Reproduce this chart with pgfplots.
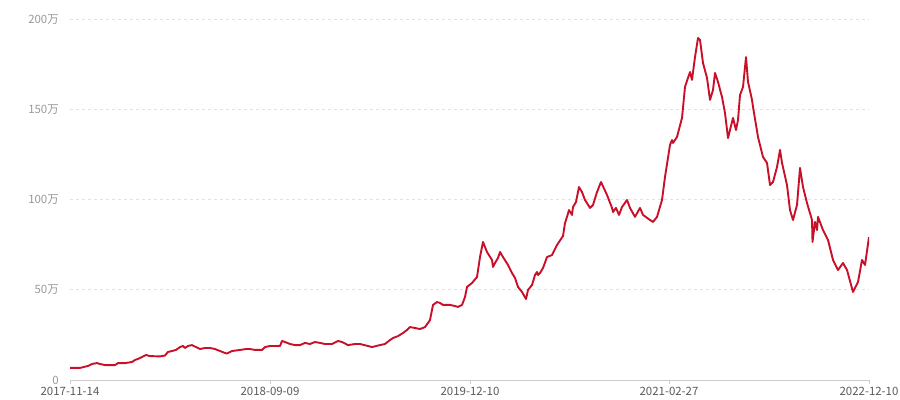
\documentclass[border=0pt]{standalone}
\usepackage{pgfplots}
\pgfplotsset{compat=1.18}
\usepackage{fontspec}
\setmainfont{Noto Sans CJK SC}
\definecolor{linered}{RGB}{200,16,40}
\definecolor{gridgray}{RGB}{225,225,225}
\definecolor{axisgray}{RGB}{204,204,204}
\definecolor{ylabgray}{RGB}{153,153,153}
\definecolor{xlabgray}{RGB}{90,90,90}
\begin{document}
\begin{tikzpicture}
\path[use as bounding box] (0,0) rectangle (900bp,400bp);
\begin{axis}[
  at={(70bp,20bp)}, anchor=south west,
  scale only axis, width=799bp, height=360bp,
  xmin=0, xmax=799, ymin=0, ymax=200,
  axis x line*=bottom, axis y line*=left,
  x axis line style={draw=axisgray, line width=1bp},
  y axis line style={draw=none},
  ytick={0,50,100,150,200},
  yticklabels={0,50万,100万,150万,200万},
  ytick style={draw=none},
  ymajorgrids,
  major grid style={draw=gridgray, line width=1bp, dash pattern=on 3bp off 3bp},
  xtick={0,200,400,599,799},
  xticklabels={2017-11-14,2018-09-09,2019-12-10,2021-02-27,2022-12-10},
  xtick style={draw=axisgray, line width=1bp},
  tick align=outside, major tick length=4bp,
  yticklabel style={font=\fontsize{11.5}{13}\selectfont, text=ylabgray, anchor=east, inner sep=0pt, xshift=-7bp},
  xticklabel style={font=\fontsize{11.5}{13}\selectfont, text=xlabgray, anchor=north, inner sep=0pt, yshift=-3bp},
]
\addplot[linered, line width=1.9bp, line join=round] coordinates {
(0,6.7)(10,6.7)(18,7.8)(22,8.9)(27,9.4)(30,8.9)(35,8.3)(45,8.3)(48,9.4)(55,9.4)
(62,10.0)(65,11.1)(70,12.2)(72,12.8)(76,13.9)(80,13.3)(90,13.1)(95,13.6)(98,15.6)(102,16.1)
(106,16.7)(110,18.3)(113,18.9)(115,17.8)(118,18.9)(122,19.4)(126,18.3)(130,17.2)(135,17.8)(140,17.8)
(145,17.2)(150,16.1)(155,15.0)(157,14.7)(162,16.1)(170,16.7)(176,17.2)(180,17.2)(185,16.7)(192,16.7)
(195,18.3)(200,18.9)(210,18.9)(212,21.7)(215,21.1)(220,20.0)(225,19.4)(230,19.4)(235,20.6)(240,20.0)
(245,21.1)(250,20.6)(255,20.0)(262,20.0)(268,21.7)(272,21.1)(278,19.4)(285,20.0)(290,20.0)(298,18.9)
(302,18.3)(310,19.4)(315,20.0)(320,22.2)(323,23.3)(328,24.4)(333,26.1)(337,27.8)(340,29.4)(345,28.9)
(350,28.3)(355,29.4)(358,31.7)(360,33.3)(363,41.7)(367,43.3)(370,42.8)(373,41.7)(376,41.7)(380,41.7)
(385,41.1)(388,40.6)(392,41.7)(395,46.1)(397,51.7)(402,53.9)(407,57.2)(410,68.3)(413,76.7)(417,71.1)
(422,66.7)(423,62.8)(425,65.0)(428,67.8)(430,71.1)(433,68.3)(438,63.9)(442,59.4)(445,56.7)(448,51.7)
(452,48.9)(456,45.0)(458,50.0)(462,52.8)(465,58.3)(467,60.0)(468,58.3)(470,59.4)(473,62.2)(477,68.3)
(482,69.4)(487,75.0)(493,80.0)(495,87.2)(497,90.6)(499,94.4)(502,91.7)(503,96.1)(506,98.9)(509,107.2)
(512,104.4)(515,100.0)(520,95.6)(523,97.2)(527,104.4)(531,110.0)(537,102.8)(542,95.6)(543,93.3)(546,95.6)
(549,91.7)(552,96.1)(557,100.0)(560,95.6)(565,90.6)(570,95.6)(573,91.7)(580,88.9)(583,87.8)(587,90.6)
(592,100.0)(595,112.8)(600,130.6)(602,133.3)(603,131.7)(607,135.0)(612,145.6)(615,162.8)(618,167.8)(620,171.1)
(622,166.7)(625,179.4)(628,190.0)(630,188.9)(633,176.1)(637,167.8)(640,155.6)(643,161.1)(645,170.6)(648,165.6)
(652,157.2)(655,148.3)(658,134.4)(663,145.6)(666,138.9)(668,144.4)(670,158.3)(673,162.8)(676,179.4)(678,165.6)
(682,155.6)(683,151.7)(688,135.0)(693,123.9)(697,120.6)(700,108.3)(703,110.0)(707,118.3)(710,127.8)(712,120.6)
(717,108.3)(720,94.4)(723,88.9)(727,97.2)(730,117.8)(733,107.2)(737,98.3)(742,88.9)(742.5,76.7)(745,87.8)
(747,83.3)(748,90.6)(753,83.3)(758,77.8)(763,66.7)(768,61.1)(773,65.0)(777,61.1)(783,48.9)(788,54.4)
(792,66.7)(795,63.9)(799,79.4)
};
\end{axis}
\end{tikzpicture}
\end{document}
